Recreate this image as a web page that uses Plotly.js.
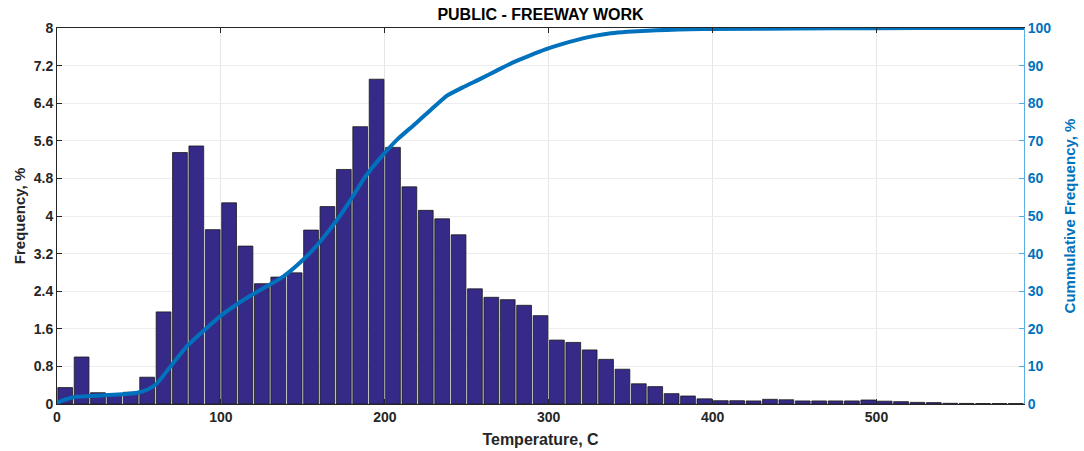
<!DOCTYPE html>
<html>
<head>
<meta charset="utf-8">
<script src="https://cdn.plot.ly/plotly-3.0.1.min.js"></script>
<style>html,body{margin:0;padding:0;background:#fff;}#chart{width:1084px;height:451px;}</style>
</head>
<body>
<div id="chart"></div>
<script>
// Histogram bin centres (Temperature, C)
const binCenters = [5,15,25,35,45,55,65,75,85,95,105,115,125,135,145,155,165,175,185,195,
  205,215,225,235,245,255,265,275,285,295,305,315,325,335,345,355,365,375,385,395,
  405,415,425,435,445,455,465,475,485,495,505,515,525,535,545,555,565,575,585];
// Frequency, %
const frequency = [0.35,1.0,0.24,0.2,0.25,0.57,1.96,5.35,5.49,3.71,4.28,3.36,2.56,2.70,2.79,3.70,4.20,
  4.99,5.90,6.91,5.46,4.62,4.12,3.94,3.60,2.45,2.27,2.22,2.10,1.88,1.36,1.31,1.15,0.95,0.74,0.43,0.37,
  0.22,0.17,0.11,0.07,0.07,0.065,0.1,0.09,0.065,0.065,0.065,0.065,0.085,0.06,0.05,0.035,0.03,
  0.015,0.012,0.01,0.01,0.01];
// Cumulative frequency curve (Temperature, C / %)
const cumTemp = [0,5,11,20,29,40,49,55,60,65,70,75,80,90,100,110,120,128,138,148,158,168,178,188,198,
  208,218,228,238,248,258,268,278,288,298,308,318,328,338,348,360,372,386,400,450,500,550,590];
const cumFreq = [0.3,1.2,1.9,2.1,2.3,2.6,3.0,3.8,5.1,7.6,10.4,13.1,15.7,19.7,23.5,26.6,29.3,31.3,33.9,
  37.5,41.9,47.3,53.5,60.4,65.8,70.5,74.3,78.2,82.0,84.3,86.4,88.6,90.8,92.6,94.3,95.7,96.9,97.9,98.6,
  99.0,99.3,99.5,99.65,99.75,99.85,99.95,100,100];
// Tick labels
const xTickVals = [0,100,200,300,400,500];
const yTickVals = [0,0.8,1.6,2.4,3.2,4,4.8,5.6,6.4,7.2,8];
const yTickText = ["0","0.8","1.6","2.4","3.2","4","4.8","5.6","6.4","7.2","8"];
const y2TickVals = [0,10,20,30,40,50,60,70,80,90,100];

const FONT = "Liberation Sans, Arial, sans-serif";
const BLUE = "#0072BD";

const traces = [
  {
    type: "bar",
    x: binCenters,
    y: frequency,
    width: 9,
    marker: {color: "#352A87", line: {color: "#1a1a1a", width: 0.8}},
    hoverinfo: "x+y",
    showlegend: false
  },
  {
    type: "scatter",
    mode: "lines",
    x: cumTemp,
    y: cumFreq,
    yaxis: "y2",
    line: {color: BLUE, width: 4, shape: "spline", smoothing: 0.5},
    showlegend: false
  }
];

const layout = {
  width: 1084,
  height: 451,
  margin: {l: 57, r: 60, t: 28, b: 47},
  paper_bgcolor: "#ffffff",
  plot_bgcolor: "#ffffff",
  font: {family: FONT, size: 13, color: "#262626", weight: "bold"},
  title: {
    text: "PUBLIC - FREEWAY WORK",
    font: {family: FONT, size: 16, color: "#000000", weight: "bold"},
    x: 0.5, xref: "paper", xanchor: "center",
    y: 1 - 14/451, yref: "container", yanchor: "middle"
  },
  bargap: 0,
  xaxis: {
    range: [0, 590],
    tickvals: xTickVals,
    ticks: "inside",
    ticklen: 5,
    tickcolor: "#262626",
    showline: true,
    linecolor: "#262626",
    linewidth: 1,
    mirror: "ticks",
    showgrid: true,
    gridcolor: "#e6e6e6",
    zeroline: false,
    tickfont: {family: FONT, size: 14, color: "#262626", weight: "bold"},
    title: {text: "Temperature, C", font: {family: FONT, size: 16, color: "#262626", weight: "bold"}, standoff: 10}
  },
  yaxis: {
    range: [0, 8],
    tickvals: yTickVals,
    ticktext: yTickText,
    ticks: "inside",
    ticklen: 5,
    tickcolor: "#262626",
    showline: true,
    linecolor: "#262626",
    linewidth: 1,
    showgrid: true,
    gridcolor: "#ededed",
    zeroline: false,
    tickfont: {family: FONT, size: 14, color: "#262626", weight: "bold"},
    title: {text: "Frequency, %", font: {family: FONT, size: 15, color: "#262626", weight: "bold"}, standoff: 4}
  },
  yaxis2: {
    overlaying: "y",
    side: "right",
    range: [0, 100],
    tickvals: y2TickVals,
    ticks: "inside",
    ticklen: 5,
    tickcolor: "#5aaee6",
    showline: true,
    linecolor: "#5aaee6",
    linewidth: 1,
    showgrid: false,
    zeroline: false,
    tickfont: {family: FONT, size: 14, color: BLUE, weight: "bold"},
    title: {text: "Cummulative Frequency, %", font: {family: FONT, size: 15, color: BLUE, weight: "bold"}, standoff: 14}
  }
};

Plotly.newPlot("chart", traces, layout, {displayModeBar: false, staticPlot: true});
</script>
</body>
</html>
